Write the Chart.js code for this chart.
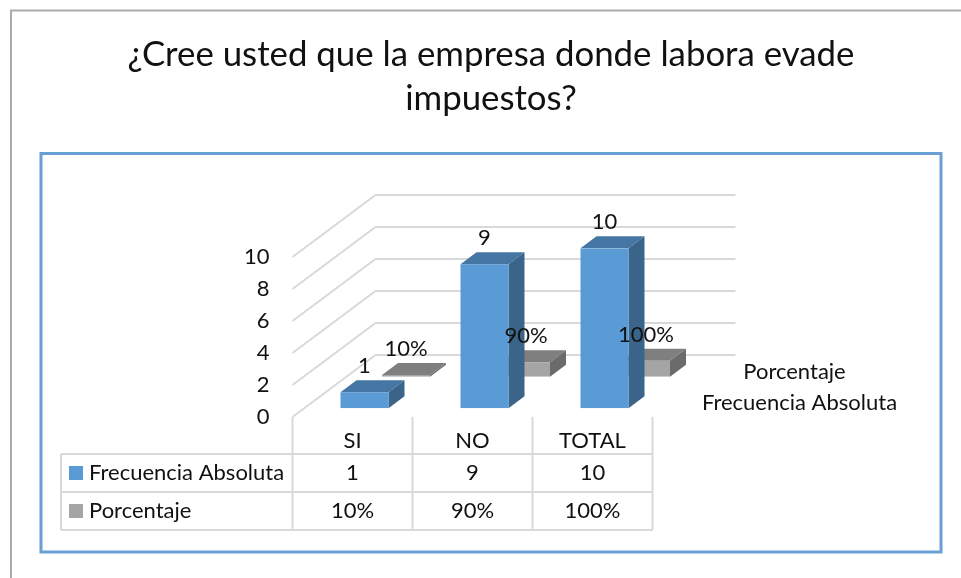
<!DOCTYPE html>
<html><head><meta charset="utf-8">
<style>html,body{margin:0;padding:0;background:#fff}canvas{display:block}</style>
<script src="https://cdn.jsdelivr.net/npm/chart.js@4"></script>
</head><body><canvas id="c" width="961" height="578"></canvas>
<script>
const titleLines = ["¿Cree usted que la empresa donde labora evade", "impuestos?"];
const categories = ["SI", "NO", "TOTAL"];
const frecuencia = [1, 9, 10];
const porcentaje = [0.1, 0.9, 1];
const porcentajeLabels = ["10%", "90%", "100%"];
const yTicks = [0, 2, 4, 6, 8, 10];
const seriesNames = ["Frecuencia Absoluta", "Porcentaje"];

const FONT = "Lato";
const TEXT = "#111";
const GRID = "#D9D9D9";
const WALL = {dx: 83, dy: -62};
const DEPTH = {dx: 16, dy: -12};
const SHIFT = [{dx: 12, dy: -8.7}, {dx: 53.5, dy: -40.3}];
const SKIN = [
  {front: "#5B9BD5", top: "#4676A3", side: "#3A6489"},
  {front: "#A5A5A5", top: "#7F7F7F", side: "#6B6B6B"}
];
const TS = 22;

function line(ctx, pts, color, w) {
  ctx.beginPath();
  pts.forEach((p, i) => i ? ctx.lineTo(p[0], p[1]) : ctx.moveTo(p[0], p[1]));
  ctx.strokeStyle = color; ctx.lineWidth = w; ctx.stroke();
}
function poly(ctx, pts, color) {
  ctx.beginPath();
  pts.forEach((p, i) => i ? ctx.lineTo(p[0], p[1]) : ctx.moveTo(p[0], p[1]));
  ctx.closePath(); ctx.fillStyle = color; ctx.fill();
}
function label(ctx, t, x, y, align) {
  ctx.font = TS + "px " + FONT; ctx.fillStyle = TEXT;
  ctx.textAlign = align || "center"; ctx.textBaseline = "middle";
  ctx.fillText(t, x, y);
}

const scene = {
  id: "scene",
  afterLayout(chart) {
    chart.titleBlock.left = 20;
    chart.titleBlock.right = 962;
  },
  beforeDraw(chart) {
    const ctx = chart.ctx;
    line(ctx, [[11, 578], [11, 10.5], [961, 10.5]], "#ABABAB", 2);
    ctx.strokeStyle = "#6A9FD6"; ctx.lineWidth = 3;
    ctx.strokeRect(41, 153.5, 900, 398.5);
  },
  beforeDatasetsDraw(chart) {
    const ctx = chart.ctx, y = chart.scales.y, x = chart.scales.x, a = chart.chartArea;
    yTicks.forEach(v => {
      const p = y.getPixelForValue(v);
      line(ctx, [[a.left, p], [a.left + WALL.dx, p + WALL.dy], [a.right + WALL.dx, p + WALL.dy]], GRID, 2);
    });
    const edges = [a.left];
    categories.forEach((c, i) => edges.push(x.getPixelForValue(i) + (x.getPixelForValue(1) - x.getPixelForValue(0)) / 2));
    const t = a.bottom + 37, m = a.bottom + 75, b = a.bottom + 113, l = 61;
    edges.forEach(e => line(ctx, [[e, a.bottom], [e, b]], GRID, 2));
    line(ctx, [[l, t], [a.right, t]], GRID, 2);
    line(ctx, [[l, m], [a.right, m]], GRID, 2);
    line(ctx, [[l, b], [a.right, b]], GRID, 2);
    line(ctx, [[l, t], [l, b]], GRID, 2);
    seriesNames.forEach((n, i) => {
      const cy = a.bottom + 56 + i * 38;
      ctx.fillStyle = SKIN[i].front; ctx.fillRect(69, cy - 7, 14, 14);
      label(ctx, n, 89, cy, "left");
    });
    [frecuencia.map(String), porcentajeLabels].forEach((row, r) => row.forEach((s, i) => {
      label(ctx, s, x.getPixelForValue(i), a.bottom + 56 + r * 38);
    }));
    label(ctx, seriesNames[1], 794.5, 372);
    label(ctx, seriesNames[0], 799.5, 402.5);
  },
  beforeDatasetDraw(chart, args) {
    const ctx = chart.ctx, i = args.index, s = SHIFT[i], k = SKIN[i];
    ctx.save();
    ctx.translate(s.dx, s.dy);
    args.meta.data.forEach(bar => {
      const {x, y, base, width} = bar.getProps(["x", "y", "base", "width"], true);
      const l = x - width / 2, r = x + width / 2;
      poly(ctx, [[l, y], [l + DEPTH.dx, y + DEPTH.dy], [r + DEPTH.dx, y + DEPTH.dy], [r, y]], k.top);
      poly(ctx, [[r, y], [r + DEPTH.dx, y + DEPTH.dy], [r + DEPTH.dx, base + DEPTH.dy], [r, base]], k.side);
    });
  },
  afterDatasetDraw(chart) { chart.ctx.restore(); },
  afterDatasetsDraw(chart) {
    const ctx = chart.ctx;
    [frecuencia.map(String), porcentajeLabels].forEach((row, d) => {
      const meta = chart.getDatasetMeta(d), s = SHIFT[d];
      row.forEach((t, i) => {
        const bar = meta.data[i];
        label(ctx, t, bar.x + s.dx, bar.y + s.dy - 26);
      });
    });
  }
};

new Chart(document.getElementById("c"), {
  type: "bar",
  data: {
    labels: categories,
    datasets: [
      {label: seriesNames[0], data: frecuencia, backgroundColor: SKIN[0].front},
      {label: seriesNames[1], data: porcentaje, backgroundColor: SKIN[1].front}
    ]
  },
  options: {
    responsive: false,
    animation: false,
    layout: {padding: {left: 0, right: 308.5, top: 0, bottom: 0}},
    datasets: {bar: {grouped: false, barPercentage: 0.4, categoryPercentage: 1, borderWidth: 0}},
    plugins: {
      legend: {display: false},
      tooltip: {enabled: false},
      title: {
        display: true, text: titleLines, color: TEXT, fullSize: true,
        font: {family: FONT, size: 34.8, weight: "normal", lineHeight: "44px"},
        padding: {top: 33, bottom: 136}
      }
    },
    scales: {
      x: {
        type: "category",
        grid: {display: false}, border: {display: false},
        ticks: {color: TEXT, font: {family: FONT, size: TS}, padding: 3, maxRotation: 0, autoSkip: false},
        afterFit(s) { s.height = 161; }
      },
      y: {
        min: 0, max: 10,
        grid: {display: false}, border: {display: false},
        ticks: {color: TEXT, font: {family: FONT, size: TS}, padding: 15, stepSize: 2},
        afterFit(s) { s.width = 292.5; }
      }
    }
  },
  plugins: [scene]
});
</script></body></html>
